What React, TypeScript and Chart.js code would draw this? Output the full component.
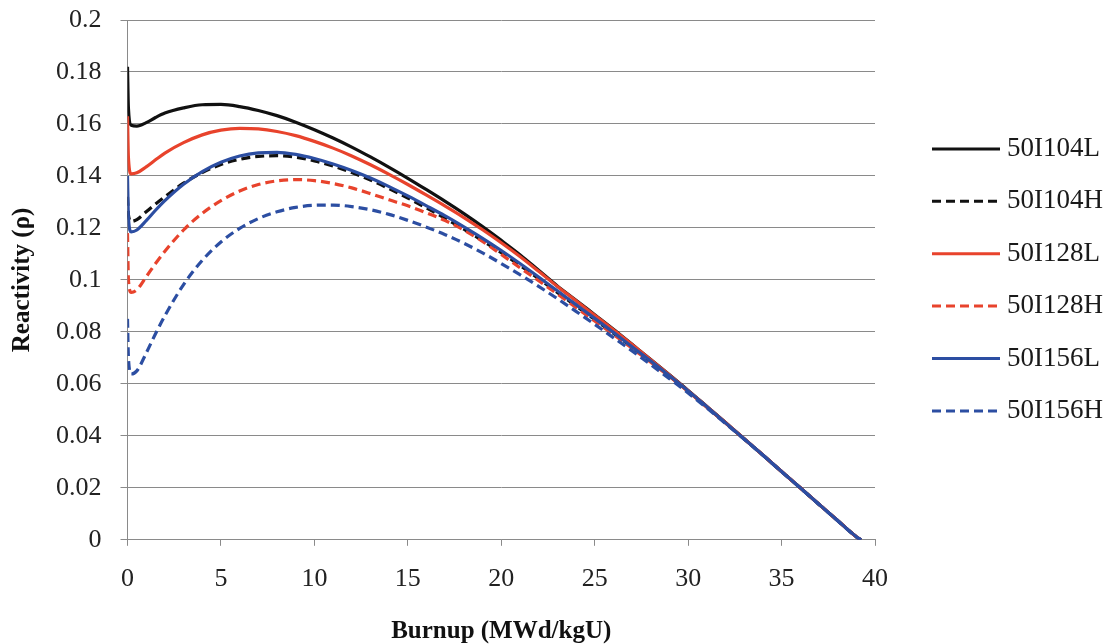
import React, { useEffect, useRef } from 'react';
import { Chart, registerables } from 'chart.js';

Chart.register(...registerables);

const burnup = [0, 0.05, 0.2, 0.5, 1, 1.5, 2, 3, 4, 5, 6, 7, 8, 9, 10, 11, 12, 13, 14, 15, 16, 17, 18, 19, 20, 21, 22, 23, 24, 25, 26, 27, 28, 29, 30, 31, 32, 33, 34, 35, 36, 37, 38, 39, 39.25];

const r50I104L = [0.182, 0.166, 0.1595, 0.1592, 0.1605, 0.1625, 0.1642, 0.1662, 0.1674, 0.1675, 0.1667, 0.1652, 0.1632, 0.1607, 0.1578, 0.1546, 0.1511, 0.1473, 0.1433, 0.1391, 0.1347, 0.1302, 0.1255, 0.1205, 0.1152, 0.1097, 0.1037, 0.0977, 0.0922, 0.0866, 0.081, 0.0752, 0.0694, 0.0635, 0.0575, 0.0513, 0.0451, 0.0389, 0.0326, 0.0263, 0.02, 0.0137, 0.0074, 0.0012, 0];
const r50I104H = [0.132, 0.125, 0.1225, 0.1232, 0.1262, 0.1292, 0.132, 0.1372, 0.1413, 0.1444, 0.1464, 0.1475, 0.1478, 0.1472, 0.1458, 0.1438, 0.1413, 0.1384, 0.1351, 0.1315, 0.1277, 0.1237, 0.1195, 0.1151, 0.1105, 0.1056, 0.1005, 0.0952, 0.09, 0.0848, 0.0795, 0.0741, 0.0686, 0.063, 0.0572, 0.0511, 0.045, 0.0388, 0.0326, 0.0263, 0.02, 0.0137, 0.0074, 0.0012, 0];
const r50I128L = [0.163, 0.147, 0.1408, 0.1412, 0.1435, 0.1462, 0.1488, 0.1528, 0.1558, 0.1576, 0.1583, 0.1581, 0.1571, 0.1555, 0.1533, 0.1507, 0.1477, 0.1443, 0.1406, 0.1367, 0.1326, 0.1284, 0.124, 0.1193, 0.1143, 0.109, 0.1033, 0.0975, 0.092, 0.0864, 0.0808, 0.0751, 0.0693, 0.0634, 0.0574, 0.0513, 0.0451, 0.0389, 0.0326, 0.0263, 0.02, 0.0137, 0.0074, 0.0012, 0];
const r50I128H = [0.118, 0.1, 0.0952, 0.0962, 0.1012, 0.1063, 0.111, 0.1192, 0.1256, 0.1305, 0.1342, 0.1367, 0.1381, 0.1386, 0.1382, 0.1371, 0.1354, 0.1332, 0.1308, 0.1285, 0.1258, 0.1228, 0.1192, 0.1148, 0.1098, 0.1047, 0.0997, 0.0946, 0.0894, 0.0842, 0.079, 0.0737, 0.0683, 0.0628, 0.0571, 0.051, 0.0449, 0.0388, 0.0326, 0.0263, 0.02, 0.0137, 0.0074, 0.0012, 0];
const r50I156L = [0.14, 0.124, 0.1185, 0.1192, 0.1228, 0.1268, 0.1305, 0.1368, 0.1417, 0.1453, 0.1477, 0.1489, 0.1491, 0.1483, 0.1467, 0.1446, 0.1421, 0.1392, 0.1359, 0.1323, 0.1285, 0.1246, 0.1204, 0.116, 0.1113, 0.1063, 0.1011, 0.0958, 0.0905, 0.0852, 0.0798, 0.0743, 0.0688, 0.0631, 0.0573, 0.0512, 0.045, 0.0388, 0.0326, 0.0263, 0.02, 0.0137, 0.0074, 0.0012, 0];
const r50I156H = [0.085, 0.07, 0.0638, 0.065, 0.0718, 0.0793, 0.0862, 0.0982, 0.1075, 0.1146, 0.1198, 0.1236, 0.1262, 0.1279, 0.1287, 0.1288, 0.1282, 0.127, 0.1252, 0.1229, 0.1203, 0.1174, 0.1141, 0.1104, 0.1063, 0.102, 0.0975, 0.0928, 0.0879, 0.0829, 0.0778, 0.0727, 0.0674, 0.062, 0.0565, 0.0507, 0.0447, 0.0387, 0.0325, 0.0262, 0.0199, 0.0136, 0.0073, 0.0011, 0];

const seriesNames = ['50I104L', '50I104H', '50I128L', '50I128H', '50I156L', '50I156H'];
const seriesValues = [r50I104L, r50I104H, r50I128L, r50I128H, r50I156L, r50I156H];
const seriesColors = ['#111111', '#111111', '#e8432c', '#e8432c', '#2c4ea2', '#2c4ea2'];
const seriesDashed = [false, true, false, true, false, true];
const seriesOrder = [5, 4, 3, 2, 1, 0];

const SERIF = '"Liberation Serif", "Times New Roman", serif';
const GRID = '#8a8a8a';

const legendPlugin = {
  id: 'sideLegend',
  afterDraw(chart: any) {
    const ctx = chart.ctx;
    const ca = chart.chartArea;
    const ds = chart.data.datasets;
    const n = ds.length;
    const spacing = 52.4;
    const cy = (ca.top + ca.bottom) / 2;
    const x0 = ca.right + 57;
    const x1 = x0 + 68;
    const tx = x1 + 7;
    ds.forEach((d: any, i: number) => {
      const y = cy + (i - (n - 1) / 2) * spacing;
      ctx.save();
      ctx.strokeStyle = d.borderColor;
      ctx.lineWidth = 3;
      ctx.setLineDash(d.borderDash || []);
      ctx.beginPath();
      ctx.moveTo(x0, y);
      ctx.lineTo(x1, y);
      ctx.stroke();
      ctx.setLineDash([]);
      ctx.fillStyle = '#1a1a1a';
      ctx.font = `27px ${SERIF}`;
      ctx.textAlign = 'left';
      ctx.textBaseline = 'middle';
      ctx.fillText(d.label, tx, y);
      ctx.restore();
    });
  },
};

export default function App() {
  const ref = useRef<HTMLCanvasElement | null>(null);
  useEffect(() => {
    document.body.style.margin = '0';
    const canvas = ref.current;
    if (!canvas) return;
    const datasets = seriesNames.map((name, i) => ({
      label: name,
      data: burnup.map((x, j) => ({ x, y: seriesValues[i][j] })),
      borderColor: seriesColors[i],
      backgroundColor: seriesColors[i],
      borderWidth: 3.2,
      borderDash: seriesDashed[i] ? [9, 5] : [],
      pointRadius: 0,
      fill: false,
      cubicInterpolationMode: 'monotone' as const,
      order: seriesOrder[i],
    }));
    const chart = new Chart(canvas, {
      type: 'line',
      data: { datasets },
      options: {
        responsive: false,
        animation: false,
        layout: { padding: { top: 20, right: 234, bottom: 0, left: 0 } },
        plugins: { legend: { display: false }, tooltip: { enabled: false } },
        scales: {
          x: {
            type: 'linear',
            min: 0,
            max: 40,
            ticks: {
              stepSize: 5,
              padding: 18,
              color: '#222',
              font: { family: SERIF, size: 26 },
            },
            grid: { drawOnChartArea: false, drawTicks: true, tickLength: 6, color: GRID },
            border: { display: true, color: GRID, width: 1 },
            title: {
              display: true,
              text: 'Burnup (MWd/kgU)',
              color: '#111',
              font: { family: SERIF, size: 25, weight: 'bold', lineHeight: 1 },
              padding: { top: 6, bottom: 0 },
            },
          },
          y: {
            type: 'linear',
            min: 0,
            max: 0.2,
            afterFit: (s: any) => {
              s.paddingTop = 0;
              s.paddingBottom = 0;
            },
            ticks: {
              stepSize: 0.02,
              padding: 19,
              color: '#222',
              font: { family: SERIF, size: 26 },
              callback: (v: any) => String(Number(Number(v).toFixed(2))),
            },
            grid: { color: GRID, drawTicks: true, tickLength: 7 },
            border: { display: true, color: GRID, width: 1 },
            title: {
              display: true,
              text: 'Reactivity (ρ)',
              color: '#111',
              font: { family: SERIF, size: 25, weight: 'bold', lineHeight: 1 },
              padding: { top: 10, bottom: 2 },
            },
          },
        },
      },
      plugins: [legendPlugin],
    });
    return () => chart.destroy();
  }, []);
  return (
    <div style={{ width: 1109, height: 644 }}>
      <canvas ref={ref} width={1109} height={644} style={{ display: 'block' }} />
    </div>
  );
}
